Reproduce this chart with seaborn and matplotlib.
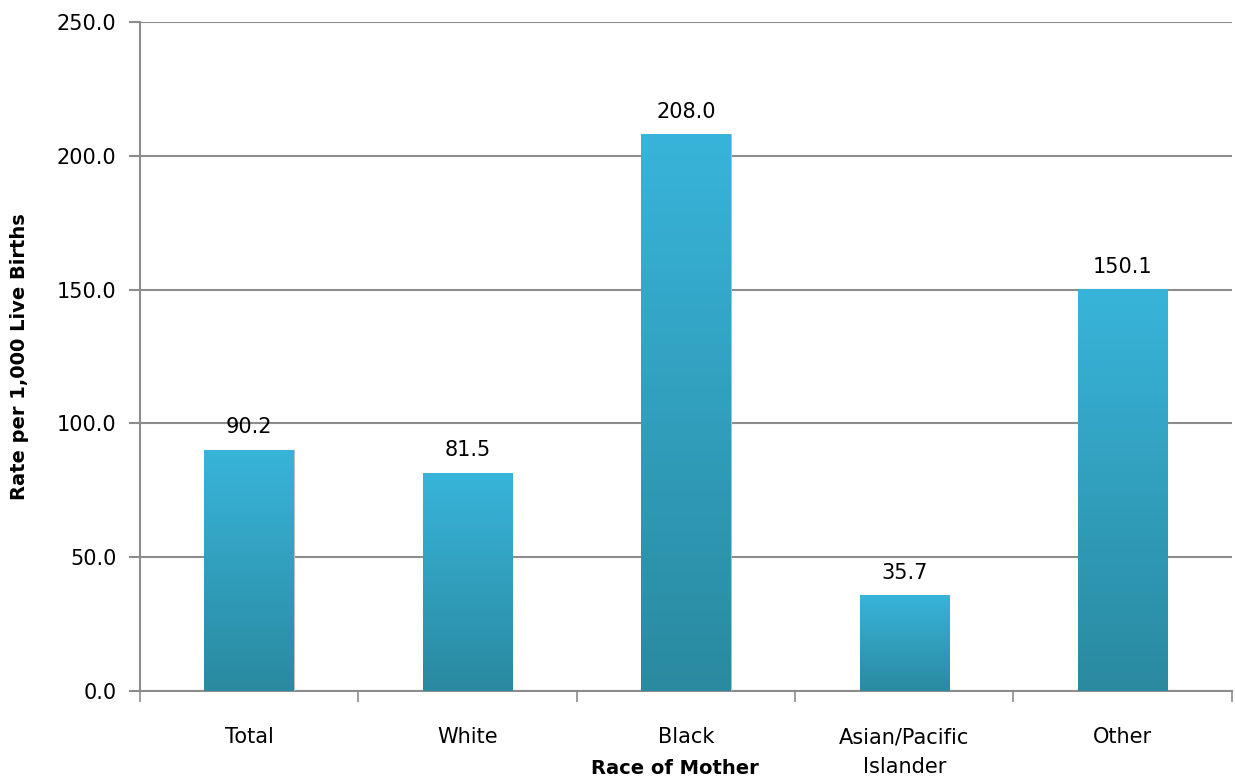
import numpy as np
import pandas as pd
import matplotlib
matplotlib.use("Agg")
import matplotlib.pyplot as plt
from matplotlib.colors import LinearSegmentedColormap
import seaborn as sns

sns.set_style("white")
plt.rcParams['font.family'] = ['DejaVu Sans']
plt.rcParams['text.color'] = 'black'
plt.rcParams['axes.labelcolor'] = 'black'
plt.rcParams['xtick.labelcolor'] = 'black'
plt.rcParams['ytick.labelcolor'] = 'black'

# data
races = ["Total", "White", "Black", "Asian/Pacific\nIslander", "Other"]
rates = [90.2, 81.5, 208.0, 35.7, 150.1]

df = pd.DataFrame({"race": races, "rate": rates})

fig = plt.figure(figsize=(12.35, 7.81), dpi=100)
ax = fig.add_axes([0.1134, 0.1152, 0.884, 0.8566])

sns.barplot(data=df, x="race", y="rate", color="#33A9CC", width=0.41,
            edgecolor="#BBBBBB", linewidth=0.8, ax=ax, zorder=3)

# vertical gradient inside each bar (light top, darker bottom)
cmap = LinearSegmentedColormap.from_list("bar", ["#2A8AA0", "#38B4DA"])
grad = np.linspace(0, 1, 256).reshape(-1, 1)
for p in ax.patches:
    x0, y0 = p.get_x(), p.get_y()
    w, h = p.get_width(), p.get_height()
    im = ax.imshow(grad, cmap=cmap, aspect="auto", origin="lower",
                   extent=[x0, x0 + w, y0, y0 + h], zorder=3)
    im.set_clip_path(p)
    p.set_facecolor("none")

ax.set_xlim(-0.5, len(races) - 0.5)
ax.set_ylim(0, 250)
ax.set_yticks(np.arange(0, 251, 50))
ax.set_yticklabels([f"{v:.1f}" for v in np.arange(0, 251, 50)], fontsize=15)
ax.yaxis.grid(True, color="#8C8C8C", linewidth=1.5, zorder=0)
ax.set_axisbelow(True)

# value labels
for p, v in zip(ax.patches, rates):
    ax.annotate(f"{v:.1f}", (p.get_x() + p.get_width() / 2, v),
                xytext=(0, 9), textcoords="offset points",
                ha="center", va="bottom", fontsize=15, zorder=4)

# category ticks at boundaries, labels at centers
ax.set_xticks(np.arange(-0.5, len(races)), minor=False)
ax.set_xticklabels([])
ax.set_xticks(np.arange(len(races)), minor=True)
ax.set_xticklabels(races, minor=True, fontsize=15, linespacing=1.6)
ax.tick_params(axis="x", which="major", bottom=True, length=8, width=1.2,
               color="#8C8C8C", direction="out")
ax.tick_params(axis="x", which="minor", bottom=True, length=0, pad=26)
ax.tick_params(axis="y", left=True, length=8, width=1.5, color="#8C8C8C",
               direction="out", pad=9)

for side in ["top", "right"]:
    ax.spines[side].set_visible(False)
for side in ["left", "bottom"]:
    ax.spines[side].set_color("#8C8C8C")
    ax.spines[side].set_linewidth(1.5)

ax.set_xlabel("Race of Mother", fontsize=14, fontweight="bold")
ax.xaxis.set_label_coords(0.49, -0.102)
ax.set_ylabel("Rate per 1,000 Live Births", fontsize=14, fontweight="bold")
ax.yaxis.set_label_coords(-0.102, 0.5)

fig.savefig("out.png", dpi=100)
